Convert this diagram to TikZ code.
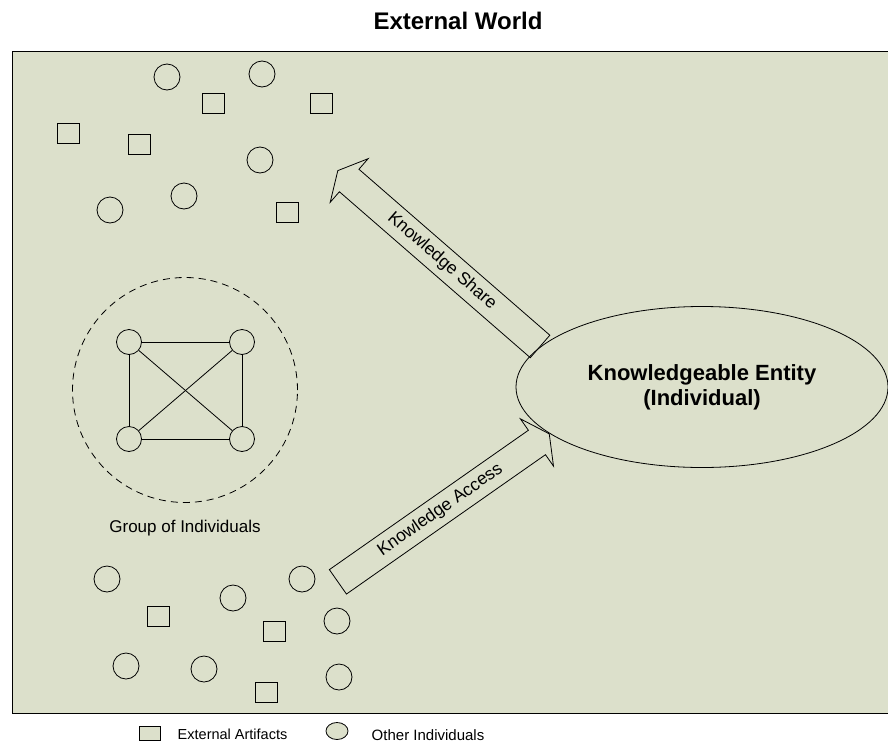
\documentclass[tikz,border=0pt]{standalone}
\usepackage{fontspec}
\setmainfont{Liberation Sans}
\usetikzlibrary{shapes.geometric,shapes.arrows}
\definecolor{worldbg}{RGB}{220,224,203}
\begin{document}
\begin{tikzpicture}[x=1pt, y=-1pt, line width=0.8pt]
\tikzstyle{artifact} = [draw,rectangle,minimum width=22pt,minimum height=20pt,inner sep=0pt]
\tikzstyle{person} = [draw,circle,minimum size=26pt,inner sep=0pt]
\tikzstyle{member} = [draw,circle,minimum size=25pt,inner sep=0pt]
\tikzstyle{flow} = [draw,single arrow,single arrow head extend=14pt,single arrow tip angle=125,inner xsep=2pt,inner ysep=6.5pt,text height=12.5pt,text depth=3.5pt,font=\fontsize{17.5}{20}\selectfont]
\tikzstyle{link} = [draw]
\useasboundingbox (0,0) rectangle (888,744);

\node (title) at (458,21) {\fontsize{24}{28}\selectfont\bfseries External World};
\draw[fill=worldbg, line width=1pt] (12,51) rectangle (895,713);

% outside world, upper part
\node[person](o1) at (167,77){}; \node[person](o2) at (262,74){}; \node[person](o3) at (260,160){};
\node[person](o4) at (184,196){}; \node[person](o5) at (110,210){};
\node[artifact](a1) at (213,103){}; \node[artifact](a2) at (321,103){}; \node[artifact](a3) at (68,133){};
\node[artifact](a4) at (139,144){}; \node[artifact](a5) at (287,212){};

% outside world, lower part
\node[person](o6) at (107,579){}; \node[person](o7) at (233,598){}; \node[person](o8) at (302,579){};
\node[person](o9) at (337,621){}; \node[person](o10) at (126,666){}; \node[person](o11) at (204,669){};
\node[person](o12) at (339,677){};
\node[artifact](a6) at (158,616){}; \node[artifact](a7) at (274,631){}; \node[artifact](a8) at (266,692){};

% group of individuals
\node[draw,circle,dashed,dash pattern=on 7pt off 5pt,minimum size=225pt](group) at (185,390){};
\node[member](g1) at (129,342){}; \node[member](g2) at (242,342){};
\node[member](g3) at (129,439){}; \node[member](g4) at (242,439){};
\draw [link] (g1) -- (g2) -- (g4) -- (g3) -- (g1);
\draw [link] (g1) -- (g4);
\draw [link] (g2) -- (g3);
\node[font=\fontsize{17}{20}\selectfont](grouplabel) at (185,528){Group of Individuals};

\node[draw,ellipse,minimum width=372pt,minimum height=161pt,align=center,font=\fontsize{22}{25}\selectfont\bfseries](entity) at (702,387){Knowledgeable Entity\\(Individual)};
\node[flow,minimum height=268pt,rotate=-41,shape border rotate=180,anchor=tail](share) at (entity.166){Knowledge Share};
\node[flow,minimum height=258pt,rotate=35,anchor=tip](access) at (entity.197){Knowledge Access};

% legend
\node[artifact,fill=worldbg,minimum width=21pt,minimum height=14pt](keyartifact) at (150,733){};
\node[right,font=\fontsize{14.5}{17}\selectfont](keyartifacttext) at (174,734){External Artifacts};
\node[draw,ellipse,fill=worldbg,minimum width=22pt,minimum height=17pt,inner sep=0pt](keyperson) at (337,731){};
\node[right,font=\fontsize{15}{18}\selectfont](keypersontext) at (368,735){Other Individuals};
\end{tikzpicture}
\end{document}
